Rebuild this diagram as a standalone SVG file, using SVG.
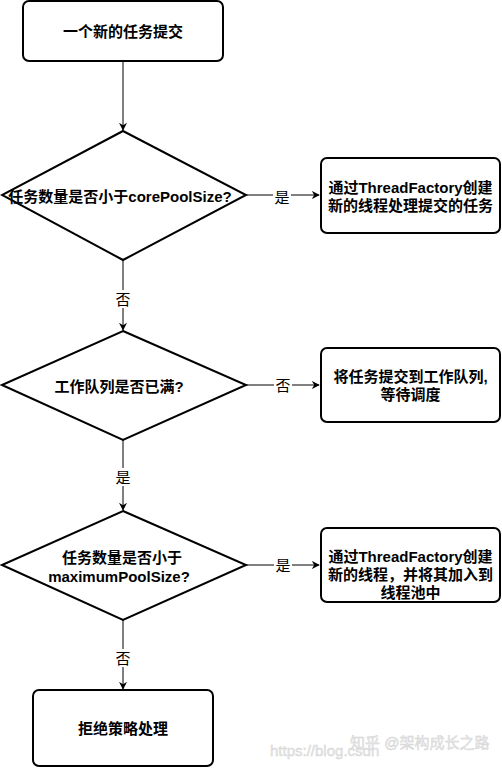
<svg xmlns="http://www.w3.org/2000/svg" width="502" height="768" viewBox="0 0 502 768">
<defs>
<style>
.box{fill:#fff;stroke:#000;stroke-width:2}
.dia{fill:#fff;stroke:#000;stroke-width:2}
.t{font-family:"Liberation Sans","Noto Sans CJK SC",sans-serif;font-size:15px;font-weight:bold;fill:#000;text-anchor:middle;dominant-baseline:central}
.lbl{font-family:"Liberation Sans","Noto Sans CJK SC",sans-serif;font-size:15px;fill:#000;text-anchor:middle;dominant-baseline:central}
.e{fill:none;stroke:#000;stroke-width:1}
.lb{fill:#fff}
.wm{font-family:"Liberation Sans","Noto Sans CJK SC",sans-serif;font-size:15px;fill:#e6e6e6;stroke:#d2d2d2;stroke-width:0.4}
</style>
<marker id="arr" viewBox="0 0 10 10" refX="9" refY="5" markerWidth="8" markerHeight="8" markerUnits="userSpaceOnUse" orient="auto">
<path d="M0,0 L10,5 L0,10 L3,5 Z" fill="#000"/>
</marker>
</defs>
<rect width="502" height="768" fill="#fff"/>
<g id="connectors">
<path class="e" d="M123,61 V130" marker-end="url(#arr)"/>
<path class="e" d="M246,195 H319" marker-end="url(#arr)"/>
<rect class="lb" x="273" y="187" width="18" height="18"/>
<text class="lbl" x="282" y="197">是</text>
<path class="e" d="M123,260 V330" marker-end="url(#arr)"/>
<rect class="lb" x="114" y="290" width="18" height="18"/>
<text class="lbl" x="123" y="299">否</text>
<path class="e" d="M246,385 H319" marker-end="url(#arr)"/>
<rect class="lb" x="274" y="376" width="18" height="18"/>
<text class="lbl" x="283" y="385">否</text>
<path class="e" d="M123,440 V510" marker-end="url(#arr)"/>
<rect class="lb" x="114" y="468" width="18" height="18"/>
<text class="lbl" x="123" y="477">是</text>
<path class="e" d="M246,565 H319" marker-end="url(#arr)"/>
<rect class="lb" x="274" y="556" width="18" height="18"/>
<text class="lbl" x="283" y="565">是</text>
<path class="e" d="M123,620 V689" marker-end="url(#arr)"/>
<rect class="lb" x="114" y="649" width="18" height="18"/>
<text class="lbl" x="123" y="658">否</text>
</g>
<g id="start">
<rect class="box" x="23" y="1" width="200" height="60" rx="6"/>
<text class="t" x="123" y="31">一个新的任务提交</text>
</g>
<g id="d1">
<polygon class="dia" points="123,131 246,195 123,260 2,195"/>
<text class="t" x="120" y="196">任务数量是否小于corePoolSize?</text>
</g>
<g id="b1">
<rect class="box" x="321" y="158" width="179" height="75" rx="6"/>
<text class="t" x="410.5" y="187">通过ThreadFactory创建</text>
<text class="t" x="410.5" y="205">新的线程处理提交的任务</text>
</g>
<g id="d2">
<polygon class="dia" points="123,331 246,385 123,440 2,385"/>
<text class="t" x="119" y="386">工作队列是否已满?</text>
</g>
<g id="b2">
<rect class="box" x="321" y="348" width="179" height="74" rx="6"/>
<text class="t" x="410.5" y="376">将任务提交到工作队列,</text>
<text class="t" x="410.5" y="394">等待调度</text>
</g>
<g id="d3">
<polygon class="dia" points="123,511 246,565 123,620 2,565"/>
<text class="t" x="122" y="557">任务数量是否小于</text>
<text class="t" x="119" y="576">maximumPoolSize?</text>
</g>
<g id="b3">
<rect class="box" x="321" y="528" width="179" height="74" rx="6"/>
<text class="t" x="410.5" y="556">通过ThreadFactory创建</text>
<text class="t" x="410.5" y="574">新的线程，并将其加入到</text>
<text class="t" x="410.5" y="592">线程池中</text>
</g>
<g id="reject">
<rect class="box" x="33" y="690" width="180" height="76" rx="6"/>
<text class="t" x="123" y="728">拒绝策略处理</text>
</g>
<g id="watermark">
<text class="wm" x="270" y="756">https://blog.csdn</text>
<text class="wm" x="350" y="748">知乎 @架构成长之路</text>
</g>
</svg>
